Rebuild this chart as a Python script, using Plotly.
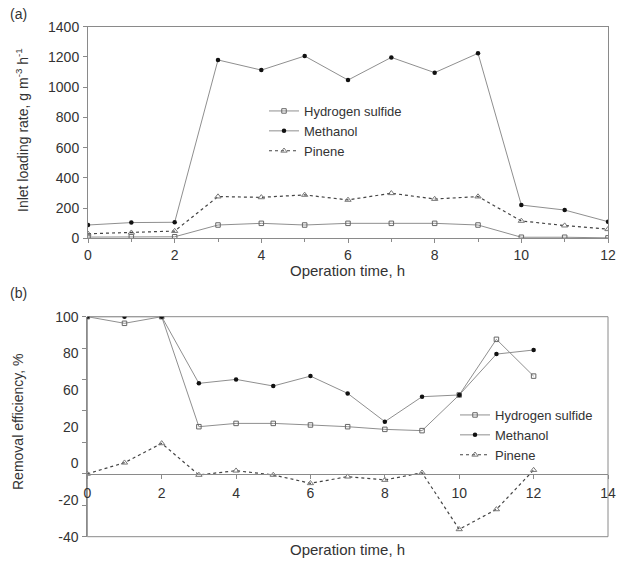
import plotly.graph_objects as go

# Operation time (h)
hours = list(range(0, 13))

# (a) Inlet loading rate, g m-3 h-1
load_h2s = [8, 10, 10, 88, 99, 88, 99, 99, 99, 88, 7, 7, 3]
load_methanol = [88, 104, 106, 1180, 1113, 1206, 1047, 1197, 1096, 1224, 220, 187, 110]
load_pinene = [30, 37, 48, 276, 271, 287, 254, 298, 260, 276, 115, 84, 60]

# (b) Removal efficiency, %
re_h2s = [100, 95.8, 100, 30, 32.1, 32.1, 31.1, 30, 28.3, 27.5, 50.2, 85.6, 62.2]
re_methanol = [100, 100, 100, 57.6, 60.1, 55.9, 62.2, 51.2, 33.2, 49.1, 50.2, 76.2, 78.8]
re_pinene = [0, 7.1, 19.4, -0.7, 2.0, -0.7, -6.0, -1.8, -3.9, 0.7, -35.3, -22.6, 2.4]

# Tick labels of the efficiency axis, spread evenly down the axis
re_ticktext = ["100", "80", "60", "20", "0", "-20", "-40"]
re_tickpos = [100 - i * 140 / 6 for i in range(7)]
re_minor = list(range(-40, 101, 20))

W, H = 617, 563
FONT = "Liberation Sans, Arial, sans-serif"
TXT = "#333333"
AX = "#8a8a8a"
LINE = "#8f8f8f"


def px(x):
    return x / W


def py(y):
    return 1 - y / H


series = [
    ("Hydrogen sulfide", load_h2s, re_h2s,
     dict(color=LINE, width=1, dash="solid"),
     dict(symbol="square-open", size=4.5, color="#666666", line=dict(width=1))),
    ("Methanol", load_methanol, re_methanol,
     dict(color=LINE, width=1, dash="solid"),
     dict(symbol="circle", size=4.5, color="#111111")),
    ("Pinene", load_pinene, re_pinene,
     dict(color="#444444", width=1.2, dash="dot"),
     dict(symbol="triangle-up-open", size=5.5, color="#777777", line=dict(width=1))),
]

fig = go.Figure()
for name, ya, yb, ln, mk in series:
    fig.add_trace(go.Scatter(x=hours, y=ya, name=name, mode="lines+markers",
                             line=ln, marker=mk, xaxis="x", yaxis="y",
                             legend="legend"))
for name, ya, yb, ln, mk in series:
    fig.add_trace(go.Scatter(x=hours, y=yb, name=name, mode="lines+markers",
                             line=ln, marker=mk, xaxis="x2", yaxis="y2",
                             legend="legend2"))

tickfont = dict(family=FONT, size=14, color=TXT)
common = dict(showgrid=False, zeroline=False, showline=True, linecolor=AX,
              linewidth=1, tickfont=tickfont)


def note(text, x, y, size=14, angle=0):
    return dict(text=text, x=px(x), y=py(y), xref="paper", yref="paper",
                xanchor="center", yanchor="middle", textangle=angle,
                showarrow=False, font=dict(size=size, color=TXT))


legend_style = dict(xanchor="left", yanchor="top", bgcolor="rgba(0,0,0,0)",
                    font=dict(family=FONT, size=13, color=TXT),
                    tracegroupgap=0, itemwidth=30)

fig.update_layout(
    width=W, height=H,
    margin=dict(l=0, r=0, t=0, b=0, autoexpand=False),
    paper_bgcolor="white", plot_bgcolor="white",
    font=dict(family=FONT, size=14, color=TXT),
    xaxis=dict(domain=[px(88), px(608)], range=[0, 12], anchor="y",
               mirror=True, ticks="outside", ticklen=4, dtick=2, tick0=0,
               tickcolor=AX,
               minor=dict(dtick=1, tick0=0, ticks="outside", ticklen=3,
                          tickcolor=AX),
               **common),
    yaxis=dict(domain=[py(238.3), py(26.7)], range=[0, 1400], anchor="x",
               mirror=True, ticks="outside", ticklen=4, dtick=200, tick0=0,
               tickcolor=AX, ticklabelstandoff=1, **common),
    xaxis2=dict(domain=[px(87.3), px(608)], range=[0, 14], anchor="free",
                position=py(473.8), ticks="outside", ticklen=4, dtick=2,
                tick0=0, tickcolor=AX, ticklabelstandoff=2, **common),
    yaxis2=dict(domain=[py(536.7), py(316.7)], range=[-40, 100], anchor="x2",
                tickmode="array", tickvals=re_tickpos, ticktext=re_ticktext,
                ticks="outside", ticklen=4, tickcolor="rgba(0,0,0,0)",
                ticklabelstandoff=1,
                minor=dict(tickmode="array", tickvals=re_minor,
                           ticks="outside", ticklen=4, tickcolor=AX),
                **common),
    legend=dict(x=px(264), y=py(96), **legend_style),
    legend2=dict(x=px(455), y=py(400), **legend_style),
    shapes=[dict(type="rect", xref="x2 domain", yref="y2 domain",
                 x0=0, x1=1, y0=0, y1=1, line=dict(color=AX, width=1),
                 layer="below")],
    annotations=[
        note("(a)", 18, 14),
        note("(b)", 18, 293),
        note("Inlet loading rate, g m<sup>-3</sup> h<sup>-1</sup>", 22, 130, angle=-90),
        note("Removal efficiency, %", 18, 422, angle=-90),
        note("Operation time, h", 348, 271, size=15),
        note("Operation time, h", 347, 549, size=15),
    ],
)

fig.write_html("out.html")
